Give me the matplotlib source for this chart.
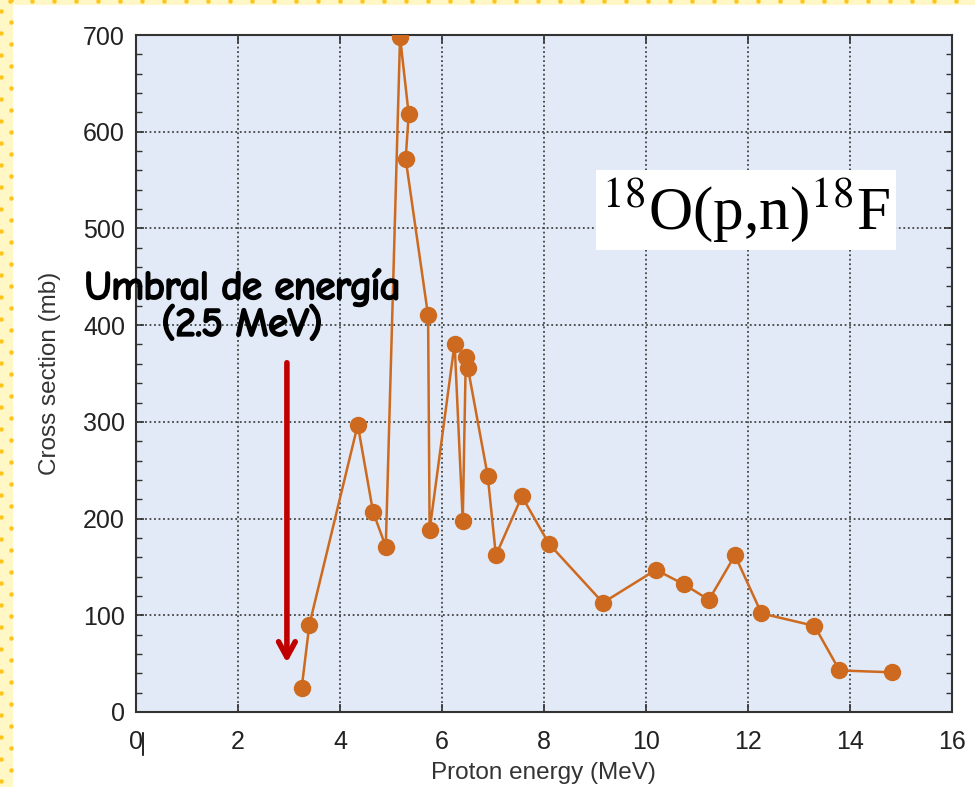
import matplotlib.pyplot as plt
import matplotlib.patheffects as pe
import numpy as np
from matplotlib.lines import Line2D
from matplotlib.patches import Rectangle
from matplotlib.ticker import MultipleLocator

# data (in the order the line joins them)
energy = [3.25, 3.4, 4.35, 4.65, 4.9, 5.18, 5.35, 5.29, 5.73, 5.76, 6.25,
          6.41, 6.47, 6.51, 6.9, 7.06, 7.57, 8.1, 9.16, 10.2, 10.75, 11.24,
          11.75, 12.27, 13.31, 13.8, 14.84]
xsec = [25, 90, 297, 207, 171, 698, 618, 572, 410, 188, 381,
        198, 367, 356, 244, 162, 223, 174, 113, 147, 132, 116,
        162, 102, 89, 43, 41]
x_ticks = [0, 2, 4, 6, 8, 10, 12, 14, 16]
y_ticks = [0, 100, 200, 300, 400, 500, 600, 700]

orange = '#CD6A1F'
sans = ['Liberation Sans', 'DejaVu Sans']

plt.rcParams['mathtext.fontset'] = 'stix'

fig = plt.figure(figsize=(9.75, 7.87), dpi=100)
ax = fig.add_axes([0.1395, 0.0953, 0.8365, 0.8602])
ax.set_facecolor('#E1EAF6')

ax.plot(energy, xsec, '-o', color=orange, lw=1.8, ms=11.5, zorder=3)

ax.set_xlim(0, 16)
ax.set_ylim(0, 700)
ax.set_xticks(x_ticks)
ax.set_yticks(y_ticks)
ax.yaxis.set_minor_locator(MultipleLocator(20))
ax.grid(True, which='major', ls=(0, (1, 1.5)), color='#444444', lw=1.3)
ax.tick_params(which='both', direction='in', top=True, right=True,
               color='#333333', labelcolor='#222222')
ax.tick_params(which='major', length=6, width=1.2, pad=8)
ax.tick_params(axis='x', which='major', pad=13)
ax.tick_params(which='minor', length=4, width=1.0)
ax.tick_params(axis='x', which='minor', bottom=False, top=False)
for lab in ax.get_xticklabels() + ax.get_yticklabels():
    lab.set_family(sans)
    lab.set_fontsize(18)
for s in ax.spines.values():
    s.set_color('#333333')
    s.set_linewidth(1.5)

ax.set_xlabel('Proton energy (MeV)', fontsize=17.5, family=sans,
              color='#333333', labelpad=6)
ax.set_ylabel('Cross section (mb)', fontsize=17.5, family=sans,
              color='#333333', labelpad=16)

# threshold annotation
ax.annotate('', xy=(2.96, 48), xytext=(2.96, 364),
            arrowprops=dict(arrowstyle='->,head_length=1.1,head_width=0.6',
                            color='#C00000', lw=4))
bold_fx = [pe.withStroke(linewidth=1.8, foreground='black')]
note_font = ['Comic Neue', 'DejaVu Sans']
ax.text(2.08, 439, 'Umbral de energía', ha='center', va='center',
        fontsize=28, family=note_font, zorder=5, path_effects=bold_fx)
ax.text(2.08, 400, '(2.5 MeV)', ha='center', va='center',
        fontsize=28, family=note_font, zorder=5, path_effects=bold_fx)

# reaction label
ax.text(11.96, 519, r'$^{18}$O(p,n)$^{18}$F', ha='center', va='center',
        fontsize=44, family=['Liberation Serif', 'DejaVu Serif'], zorder=5,
        bbox=dict(boxstyle='square,pad=0.1', fc='white', ec='none'))

# slide frame: yellow dotted strips on the left and top
fig.add_artist(Rectangle((0, 0), 13 / 975, 1, transform=fig.transFigure,
                         fc='#FFF8C6', ec='none'))
fig.add_artist(Rectangle((0, 1 - 5 / 787), 1, 5 / 787, transform=fig.transFigure,
                         fc='#FFF8C6', ec='none'))
ys = np.arange(787, 0, -11)
fig.add_artist(Line2D(np.where(np.arange(len(ys)) % 2 == 0, 11, 1) / 975, ys / 787,
                      transform=fig.transFigure, ls='none', marker='o', ms=2.2,
                      color='#FFC41A'))
xs = np.arange(10, 975, 22)
fig.add_artist(Line2D(xs / 975, np.full(len(xs), 786) / 787,
                      transform=fig.transFigure, ls='none', marker='o', ms=2.2,
                      color='#FFC41A'))

# stray cursor mark next to the 0 tick label
fig.add_artist(Line2D([143 / 975, 143 / 975], [1 - 755 / 787, 1 - 733 / 787],
                      transform=fig.transFigure, color='black', lw=1.2))

fig.savefig('out.png', dpi=100)
